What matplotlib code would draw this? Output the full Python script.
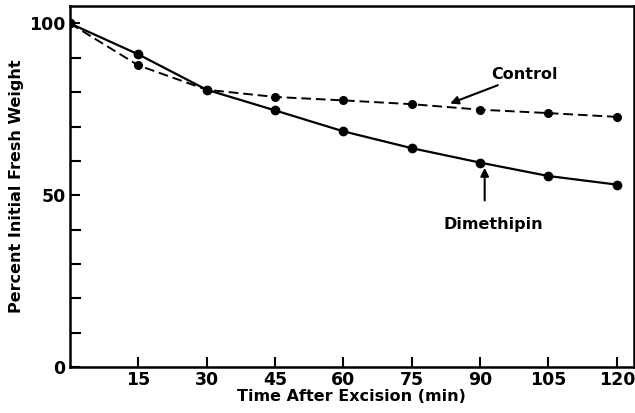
import matplotlib.pyplot as plt
from matplotlib.ticker import MultipleLocator

plt.rcParams['font.family'] = ['DejaVu Sans']
plt.rcParams['font.weight'] = 'bold'

time_min = [0, 15, 30, 45, 60, 75, 90, 105, 120]
dimethipin = [100, 91.0, 80.7, 74.7, 68.6, 63.7, 59.5, 55.6, 53.1]
control = [100, 87.8, 80.7, 78.6, 77.6, 76.5, 74.9, 73.9, 72.8]
x_ticks = [15, 30, 45, 60, 75, 90, 105, 120]
y_ticks = [0, 50, 100]

fig = plt.figure(figsize=(6.35, 4.13), dpi=100)
ax = fig.add_axes([0.110, 0.111, 0.888, 0.874])

ax.plot(time_min, dimethipin, color='black', lw=1.6, marker='o', ms=6)
ax.plot(time_min, control, color='black', lw=1.4, ls=(0, (5, 2.5)), marker='o', ms=5.5)

ax.set_xlim(0, 123.7)
ax.set_ylim(0, 105)
ax.set_xticks(x_ticks)
ax.set_yticks(y_ticks)
ax.yaxis.set_minor_locator(MultipleLocator(10))
ax.tick_params(axis='both', which='both', direction='in', width=1.5)
ax.tick_params(axis='both', which='major', length=7, labelsize=12.5, pad=3)
ax.tick_params(axis='y', which='minor', length=8)
for lab in ax.get_xticklabels() + ax.get_yticklabels():
    lab.set_fontweight('bold')
for sp in ax.spines.values():
    sp.set_linewidth(1.8)

ax.set_xlabel('Time After Excision (min)', fontsize=11.5, fontweight='bold', labelpad=0)
ax.set_ylabel('Percent Initial Fresh Weight', fontsize=11.5, fontweight='bold', labelpad=4)

ax.annotate('Control', xy=(83.4, 76.7), xytext=(92.5, 85), fontsize=11.5, fontweight='bold',
            va='center', ha='left',
            arrowprops=dict(arrowstyle='-|>', color='black', lw=1.5, mutation_scale=12,
                            shrinkA=0, shrinkB=0))
ax.annotate('', xy=(91, 58.0), xytext=(91, 48.5),
            arrowprops=dict(arrowstyle='-|>', color='black', lw=1.5, mutation_scale=12,
                            shrinkA=0, shrinkB=0))
ax.text(93, 41.5, 'Dimethipin', fontsize=11.5, fontweight='bold', ha='center', va='center')

fig.savefig('out.png', dpi=100)
